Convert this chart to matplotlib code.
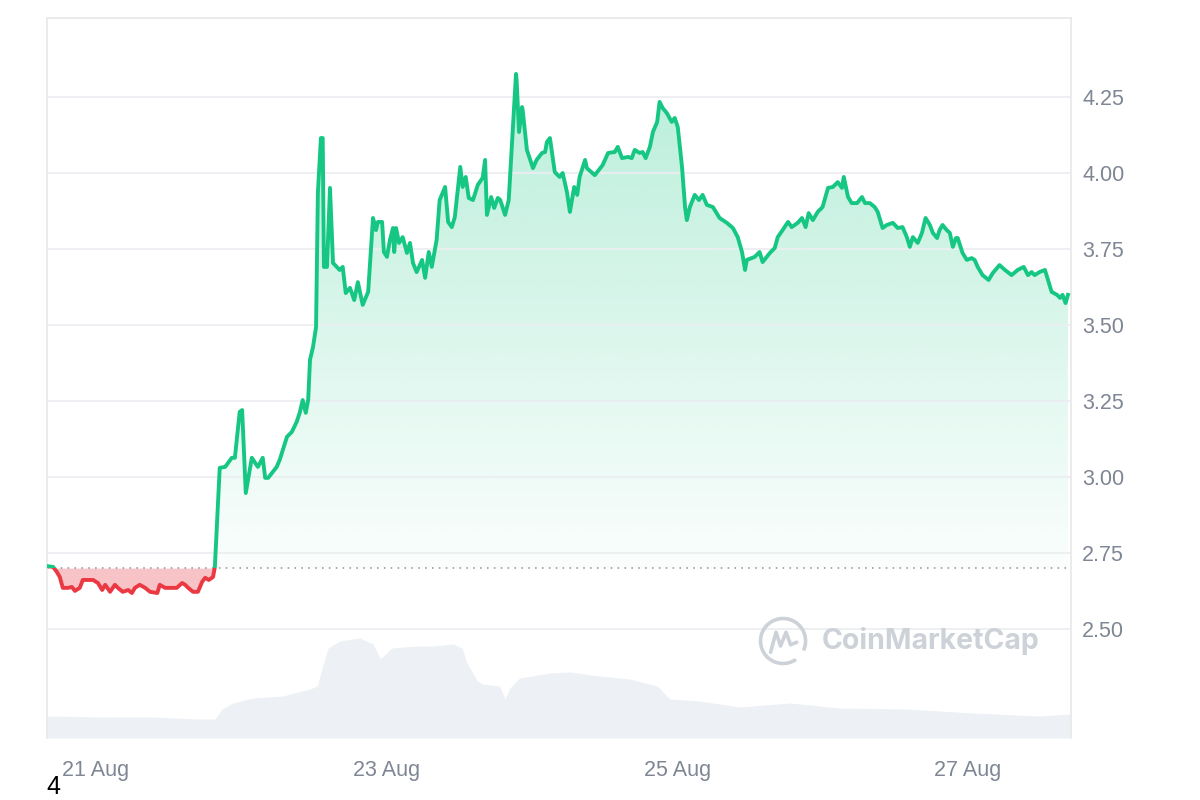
#!/usr/bin/env python3
"""7-day price chart, CoinMarketCap style (line vs. open price + volume)"""
import matplotlib; matplotlib.use('Agg')
import matplotlib.pyplot as plt
import numpy as np
from matplotlib.colors import to_rgb
from matplotlib.patches import Rectangle, PathPatch, Arc
from matplotlib.path import Path

plt.rcParams['font.family'] = ['Liberation Sans', 'DejaVu Sans']

# hours since 20 Aug 16:00
hours = [0.2, 1.0, 1.6, 2.1, 2.6, 3.5, 4.1, 4.6, 5.4, 5.9,
         6.8, 7.6, 8.4, 9.1, 9.6, 10.4, 11.2, 11.7, 12.5, 13.4,
         14.0, 14.5, 15.3, 16.2, 17.0, 18.2, 18.6, 19.5, 20.3, 21.4,
         22.3, 22.8, 23.3, 24.1, 24.9, 25.6, 26.1, 26.7, 27.4, 27.7,
         28.0, 28.5, 29.4, 30.5, 31.0, 31.8, 32.2, 32.8, 33.8, 34.8,
         35.6, 36.0, 36.5, 37.9, 38.4, 39.6, 40.4, 41.2, 41.7, 42.2,
         42.7, 43.1, 43.4, 43.9, 44.4, 44.7, 45.2, 45.5, 45.7, 46.2,
         46.7, 47.2, 48.3, 48.8, 49.3, 50.0, 50.7, 51.3, 52.1, 53.0,
         53.8, 54.3, 54.6, 55.3, 55.6, 56.1, 56.6, 57.1, 57.3, 57.6,
         58.1, 58.7, 59.4, 59.9, 60.4, 61.0, 61.9, 62.4, 63.0, 63.5,
         64.3, 64.8, 65.7, 66.2, 66.8, 67.3, 68.2, 68.6, 69.1, 69.6,
         70.3, 71.1, 71.9, 72.3, 72.6, 73.3, 73.8, 74.4, 74.8, 75.6,
         76.2, 76.9, 77.4, 77.5, 77.9, 78.4, 78.5, 79.2, 80.2, 80.8,
         81.7, 82.2, 82.5, 83.0, 83.8, 84.6, 85.1, 85.8, 86.3, 87.0,
         87.5, 87.9, 88.8, 89.1, 90.4, 91.7, 92.6, 93.7, 94.2, 94.9,
         95.9, 96.5, 97.0, 97.8, 98.3, 98.8, 99.5, 100.0, 100.7, 101.1,
         101.6, 102.3, 103.1, 103.6, 104.1, 104.8, 105.3, 105.6, 106.1, 106.9,
         107.6, 108.2, 108.9, 109.9, 111.0, 112.2, 113.2, 114.0, 114.7, 115.2,
         115.5, 116.8, 117.6, 118.1, 119.3, 120.1, 120.6, 121.4, 122.3, 122.9,
         123.9, 124.6, 125.2, 125.7, 126.4, 127.2, 128.0, 128.9, 129.7, 130.5,
         131.2, 131.5, 132.2, 132.8, 133.7, 134.5, 135.0, 135.8, 136.6, 137.1,
         137.9, 138.6, 139.6, 140.4, 141.2, 141.9, 142.4, 142.9, 143.7, 144.4,
         145.0, 145.7, 146.2, 146.9, 147.3, 147.8, 148.5, 149.0, 149.5, 150.0,
         150.3, 151.1, 151.8, 152.6, 153.1, 153.6, 154.4, 155.4, 156.1, 157.2,
         158.1, 159.2, 160.2, 161.2, 161.9, 162.5, 163.0, 163.8, 164.7, 165.2,
         165.8, 166.7, 167.2, 167.6, 168.1, 168.5]
price = [2.706, 2.704, 2.688, 2.671, 2.635, 2.635, 2.638, 2.625, 2.635, 2.661,
         2.661, 2.661, 2.651, 2.628, 2.645, 2.622, 2.645, 2.635, 2.622, 2.628,
         2.618, 2.635, 2.645, 2.635, 2.622, 2.618, 2.645, 2.635, 2.635, 2.635,
         2.651, 2.645, 2.635, 2.622, 2.622, 2.655, 2.668, 2.661, 2.671, 2.704,
         2.826, 3.030, 3.033, 3.063, 3.063, 3.214, 3.220, 2.947, 3.063, 3.033,
         3.063, 2.997, 2.997, 3.033, 3.056, 3.132, 3.148, 3.181, 3.211, 3.253,
         3.211, 3.253, 3.385, 3.428, 3.493, 3.934, 4.115, 4.115, 3.691, 3.691,
         3.951, 3.704, 3.681, 3.691, 3.605, 3.622, 3.582, 3.641, 3.566, 3.609,
         3.852, 3.812, 3.839, 3.839, 3.740, 3.724, 3.780, 3.819, 3.740, 3.819,
         3.770, 3.789, 3.737, 3.770, 3.704, 3.674, 3.714, 3.655, 3.740, 3.691,
         3.780, 3.911, 3.954, 3.839, 3.822, 3.855, 4.020, 3.954, 3.987, 3.918,
         3.911, 3.961, 3.984, 4.043, 3.862, 3.921, 3.885, 3.918, 3.911, 3.862,
         3.911, 4.151, 4.326, 4.306, 4.135, 4.217, 4.207, 4.076, 4.016, 4.043,
         4.066, 4.069, 4.102, 4.115, 4.003, 3.987, 4.000, 3.938, 3.872, 3.954,
         3.928, 3.987, 4.043, 4.016, 3.993, 4.026, 4.066, 4.069, 4.086, 4.049,
         4.053, 4.049, 4.076, 4.066, 4.069, 4.049, 4.086, 4.135, 4.168, 4.234,
         4.214, 4.197, 4.168, 4.181, 4.151, 4.020, 3.888, 3.845, 3.888, 3.928,
         3.911, 3.928, 3.895, 3.888, 3.852, 3.836, 3.819, 3.789, 3.740, 3.681,
         3.714, 3.724, 3.740, 3.707, 3.737, 3.753, 3.789, 3.812, 3.839, 3.822,
         3.836, 3.852, 3.822, 3.868, 3.845, 3.872, 3.888, 3.951, 3.954, 3.970,
         3.951, 3.987, 3.921, 3.901, 3.901, 3.921, 3.901, 3.901, 3.888, 3.872,
         3.819, 3.829, 3.836, 3.819, 3.822, 3.789, 3.757, 3.789, 3.770, 3.803,
         3.852, 3.829, 3.803, 3.786, 3.812, 3.829, 3.812, 3.803, 3.757, 3.786,
         3.786, 3.737, 3.714, 3.720, 3.714, 3.691, 3.664, 3.648, 3.671, 3.697,
         3.681, 3.664, 3.681, 3.691, 3.664, 3.674, 3.664, 3.674, 3.681, 3.648,
         3.609, 3.599, 3.589, 3.599, 3.572, 3.599]

vol_hours = [0.0, 8.7, 17.0, 25.2, 27.7, 28.9, 30.7, 34.0, 38.9, 43.4,
             44.6, 45.4, 46.4, 48.3, 51.6, 53.8, 55.0, 56.9, 61.1, 63.7,
             67.0, 68.5, 69.3, 71.0, 71.9, 74.7, 75.6, 76.4, 78.0, 83.0,
             86.3, 91.2, 96.2, 100.7, 102.8, 107.7, 114.3, 122.6, 130.8, 141.9,
             152.8, 163.8, 168.8]
volume = [2.2, 2.1, 2.1, 1.9, 1.9, 2.9, 3.5, 4.0, 4.2, 4.9,
          5.2, 7.0, 9.0, 9.7, 10.0, 9.4, 7.9, 9.0, 9.2, 9.2,
          9.4, 9.0, 7.5, 5.7, 5.4, 5.2, 3.9, 5.0, 6.0, 6.5,
          6.6, 6.2, 5.9, 5.2, 3.9, 3.7, 3.1, 3.5, 3.0, 2.9,
          2.5, 2.2, 2.4]

tick_hours = [8, 56, 104, 152]
tick_labels = ['21 Aug', '23 Aug', '25 Aug', '27 Aug']
price_ticks = [2.50, 2.75, 3.00, 3.25, 3.50, 3.75, 4.00, 4.25]
BASE = 2.70  # opening price (dotted reference)

GREEN, RED = '#16c784', '#ea3943'
GRID, TXT, VOL = '#eceef1', '#7f8694', '#edf0f4'
XMAX, YLO, YHI = 169.0, 2.141, 4.51

t = np.array(hours); p = np.array(price)
assert len(t) == len(p)

fig = plt.figure(figsize=(12, 8), dpi=100)
rect = [0.0392, 0.0775, 0.8533, 0.9]

# volume underneath
axv = fig.add_axes(rect, zorder=0)
axv.fill_between(vol_hours, volume, 0, color=VOL, lw=0)
axv.set_xlim(0, XMAX); axv.set_ylim(0, 72); axv.axis('off')

ax = fig.add_axes(rect, zorder=1)
ax.patch.set_visible(False)
ax.set_xlim(0, XMAX); ax.set_ylim(YLO, YHI)

# green gradient above the open price, clipped to the area under the line
grad = np.zeros((256, 1, 4)); grad[..., :3] = to_rgb(GREEN)
grad[..., 3] = np.linspace(0.30, 0.02, 256)[:, None]
im = ax.imshow(grad, extent=[t[0], t[-1], BASE, p.max()], origin='upper',
               aspect='auto', zorder=1, interpolation='bilinear')
coll = ax.fill_between(t, p, BASE, color='none', lw=0)
clip = PathPatch(Path.make_compound_path(*coll.get_paths()), transform=ax.transData,
                 facecolor='none', edgecolor='none')
ax.add_patch(clip); im.set_clip_path(clip)
ax.fill_between(t, p, BASE, where=p < BASE, interpolate=True, color=RED, alpha=0.3,
                lw=0, zorder=1)

# line: green above open, red below
for col, y0, h in [(GREEN, BASE, 10), (RED, BASE - 10, 10)]:
    ln, = ax.plot(t, p, color=col, lw=2.8, zorder=3, solid_joinstyle='round')
    ln.set_clip_path(Rectangle((0, y0), XMAX, h, transform=ax.transData))
ax.axhline(BASE, color='#8c8f96', lw=1.1, ls=(0, (1, 3.5)), zorder=2)

ax.set_ylim(YLO, YHI); ax.set_xlim(0, XMAX)
ax.set_yticks(price_ticks)
ax.set_yticklabels([f'{v:.2f}' for v in price_ticks])
ax.yaxis.tick_right()
ax.set_xticks(tick_hours); ax.set_xticklabels(tick_labels)
ax.tick_params(length=0, labelsize=15.5, colors=TXT)
ax.tick_params(axis='y', pad=8); ax.tick_params(axis='x', pad=16)
ax.grid(axis='y', color=GRID, lw=1.3, zorder=0)
for s in ['left', 'top', 'right']:
    ax.spines[s].set_color('#e9e9e9'); ax.spines[s].set_linewidth(1.3)
ax.spines['bottom'].set_visible(False)

# watermark
WM = '#cdd2d9'
axl = fig.add_axes([0.6317, 0.1675, 0.0417, 0.0625], zorder=2)
axl.set_xlim(-1, 1); axl.set_ylim(-1, 1); axl.axis('off')
axl.add_patch(Arc((0, 0), 1.8, 1.8, theta1=-25, theta2=305, color=WM, lw=2.6))
axl.plot([-0.5, -0.28, -0.1, 0.12, 0.3, 0.55], [-0.45, 0.35, -0.2, 0.35, -0.15, -0.05],
         color=WM, lw=2.6, solid_capstyle='round', solid_joinstyle='round')
fig.text(0.685, 0.199, 'CoinMarketCap', fontsize=20.5, fontweight='bold', color=WM,
         va='center', ha='left', family=['Inter', 'DejaVu Sans'])

fig.text(0.039, 0.008, '4', fontsize=18, color='black', va='baseline', ha='left')

fig.savefig('out.png', dpi=100)
